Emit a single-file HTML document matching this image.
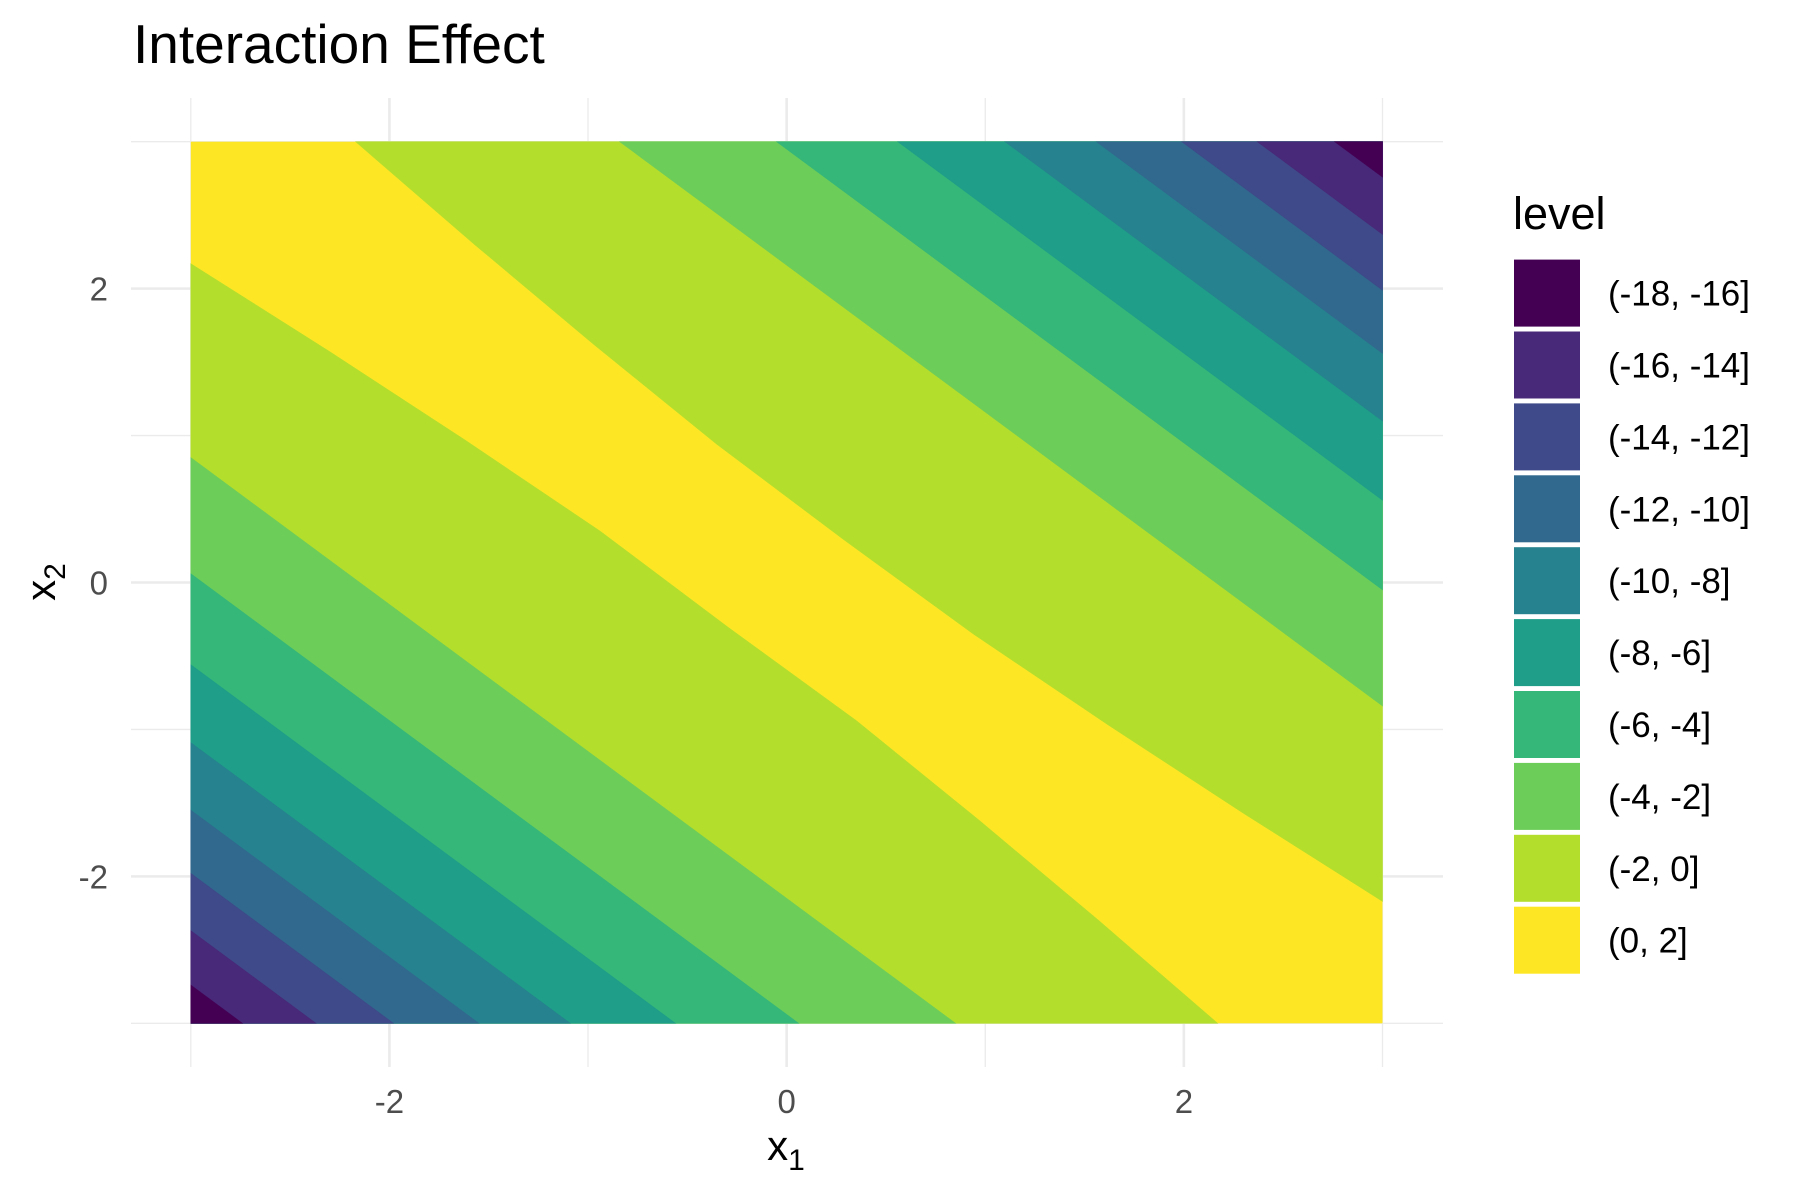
<!DOCTYPE html>
<html><head><meta charset="utf-8"><style>
body{margin:0;background:#fff;}
svg{display:block;font-family:"Liberation Sans",sans-serif;}
</style></head><body>
<svg id="chart" width="1800" height="1200" viewBox="0 0 1800 1200">
<text x="133" y="63" font-size="55" fill="#000">Interaction Effect</text>
<g id="grid"></g>
<g id="bands"></g>
<g id="axes"></g>
<g id="legend"></g>
</svg>
<script>
// Contour levels (band boundaries) and band labels
const levels = [0, -2, -4, -6, -8, -10, -12, -14, -16];
const bandLabels = ["(-18, -16]","(-16, -14]","(-14, -12]","(-12, -10]","(-10, -8]","(-8, -6]","(-6, -4]","(-4, -2]","(-2, 0]","(0, 2]"];
const bandColors = ["#440154","#482878","#3E4A89","#31688E","#26828E","#1F9E89","#35B779","#6DCD59","#B4DE2C","#FDE725"];
// upper-right contours: [x1,x2] points from top edge to right edge
const upperContours = [
 [[-2.17,3],[-1.57,2.30],[-0.97,1.62],[-0.35,0.94],[0.29,0.29],[0.94,-0.35],[1.62,-0.97],[2.30,-1.57],[3,-2.17]],
 [[-0.84,3],[3,-0.84]],
 [[-0.05,3],[3,-0.05]],
 [[0.56,3],[3,0.56]],
 [[1.10,3],[3,1.10]],
 [[1.56,3],[3,1.56]],
 [[1.99,3],[3,1.99]],
 [[2.37,3],[3,2.37]],
 [[2.76,3],[3,2.76]]
];
// lower-left contours: from left edge to bottom edge
const lowerContours = [
 [[-3,2.17],[-2.30,1.57],[-1.62,0.97],[-0.94,0.35],[-0.30,-0.30],[0.35,-0.94],[0.97,-1.62],[1.57,-2.30],[2.17,-3]],
 [[-3,0.85],[0.85,-3]],
 [[-3,0.06],[0.06,-3]],
 [[-3,-0.56],[-0.56,-3]],
 [[-3,-1.09],[-1.09,-3]],
 [[-3,-1.55],[-1.55,-3]],
 [[-3,-1.98],[-1.98,-3]],
 [[-3,-2.37],[-2.37,-3]],
 [[-3,-2.74],[-2.74,-3]]
];
const xTicks = [-2, 0, 2];
const yTicks = [-2, 0, 2];
const xMinor = [-3, -1, 1, 3];
const yMinor = [-3, -1, 1, 3];

const NS = "http://www.w3.org/2000/svg";
const X0 = 190.8, X1 = 1382.5, Y0 = 1023.3, Y1 = 141.7;
const sx = v => X0 + (v + 3) / 6 * (X1 - X0);
const sy = v => Y0 - (v + 3) / 6 * (Y0 - Y1);
function mk(tag, attrs, parent){const e=document.createElementNS(NS,tag);for(const k in attrs)e.setAttribute(k,attrs[k]);parent.appendChild(e);return e;}
const grid = document.getElementById('grid');
xMinor.forEach(v=>{const l=mk('line',{x1:sx(v),x2:sx(v),y1:98,y2:1067,stroke:'#ebebeb','stroke-width':1.3},grid);

});
yMinor.forEach(v=>{const l=mk('line',{x1:131,x2:1443,y1:sy(v),y2:sy(v),stroke:'#ebebeb','stroke-width':1.3},grid);

});
xTicks.forEach(v=>{const l=mk('line',{x1:sx(v),x2:sx(v),y1:98,y2:1067,stroke:'#ebebeb','stroke-width':2.6},grid);

});
yTicks.forEach(v=>{const l=mk('line',{x1:131,x2:1443,y1:sy(v),y2:sy(v),stroke:'#ebebeb','stroke-width':2.6},grid);

});

const bands = document.getElementById('bands');
const bg = mk('rect',{x:X0,y:Y1,width:X1-X0,height:Y0-Y1,fill:bandColors[9]},bands);


function pts(arr){return arr.map(p=>sx(p[0]).toFixed(1)+','+sy(p[1]).toFixed(1)).join(' ');}
levels.forEach((lv,i)=>{
  const col = bandColors[8-i];
  const up = upperContours[i].concat([[3,3]]);
  const p1 = mk('polygon',{points:pts(up),fill:col,stroke:col,'stroke-width':0.6},bands);
  
  
  const lo = lowerContours[i].concat([[-3,-3]]);
  const p2 = mk('polygon',{points:pts(lo),fill:col,stroke:col,'stroke-width':0.6},bands);
  
  
});

const axes = document.getElementById('axes');
xTicks.forEach(v=>{const t=mk('text',{x:sx(v),y:1113,'font-size':33,fill:'#4d4d4d','text-anchor':'middle'},axes);t.textContent=v<0?'-'+Math.abs(v):String(v);

});
yTicks.forEach(v=>{const t=mk('text',{x:108,y:sy(v)+12,'font-size':33,fill:'#4d4d4d','text-anchor':'end'},axes);t.textContent=v<0?'-'+Math.abs(v):String(v);

});
const xt = mk('text',{x:786,y:1160,'font-size':42,fill:'#000','text-anchor':'middle'},axes);


xt.innerHTML='x<tspan font-size="30" dy="10">1</tspan>';
const yt = mk('text',{x:0,y:0,'font-size':42,fill:'#000','text-anchor':'middle',transform:'translate(55,582) rotate(-90)'},axes);


yt.innerHTML='x<tspan font-size="30" dy="10">2</tspan>';

const leg = document.getElementById('legend');
const lt = mk('text',{x:1513,y:229,'font-size':45,fill:'#000'},leg);
lt.textContent='level';


bandLabels.forEach((lab,i)=>{
  const y = 259.6 + i*71.9;
  const r = mk('rect',{x:1514,y:y,width:66,height:67,fill:bandColors[i]},leg);
  
  
  const t = mk('text',{x:1608,y:y+46,'font-size':35,fill:'#000'},leg);
  t.textContent = lab;
  
  
});
</script>
</body></html>
